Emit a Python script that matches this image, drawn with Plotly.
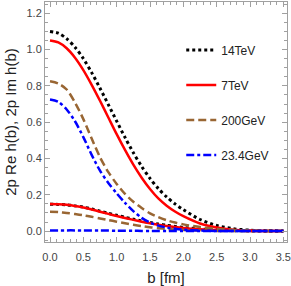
import plotly.graph_objects as go

b = [0.0, 0.125, 0.25, 0.375, 0.5, 0.625, 0.75, 0.875, 1.0, 1.125, 1.25, 1.375, 1.5,
     1.625, 1.75, 1.875, 2.0, 2.25, 2.5, 2.75, 3.0, 3.25, 3.5]

# Im parts (upper curves)
im_14tev = [1.10, 1.09, 1.06, 1.013, 0.95, 0.873, 0.787, 0.697, 0.606, 0.516, 0.432, 0.356,
            0.29, 0.234, 0.188, 0.15, 0.118, 0.064, 0.031, 0.013, 0.005, 0.002, 0.001]
im_7tev = [1.05, 1.039, 1.007, 0.955, 0.887, 0.806, 0.718, 0.626, 0.534, 0.447, 0.366, 0.294,
           0.232, 0.18, 0.14, 0.108, 0.082, 0.042, 0.02, 0.008, 0.003, 0.001, 0.0]
im_200gev = [0.825, 0.813, 0.78, 0.708, 0.617, 0.51, 0.407, 0.325, 0.26, 0.205, 0.162, 0.127,
             0.098, 0.077, 0.06, 0.047, 0.037, 0.022, 0.012, 0.006, 0.003, 0.001, 0.0]
im_23gev = [0.725, 0.712, 0.67, 0.605, 0.518, 0.42, 0.333, 0.265, 0.208, 0.156, 0.11, 0.073,
            0.047, 0.03, 0.02, 0.013, 0.008, 0.003, 0.001, 0.0, 0.0, 0.0, 0.0]

# Re parts (lower curves)
re_14tev = [0.148, 0.147, 0.145, 0.139, 0.132, 0.122, 0.11, 0.098, 0.087, 0.076, 0.066, 0.056,
            0.047, 0.039, 0.032, 0.026, 0.02, 0.012, 0.007, 0.003, 0.001, 0.0, 0.0]
re_7tev = [0.149, 0.148, 0.145, 0.138, 0.13, 0.119, 0.107, 0.095, 0.083, 0.072, 0.062, 0.052,
           0.043, 0.035, 0.028, 0.022, 0.017, 0.01, 0.005, 0.002, 0.001, 0.0, 0.0]
re_200gev = [0.106, 0.105, 0.1, 0.094, 0.087, 0.079, 0.07, 0.061, 0.052, 0.043, 0.035, 0.028,
             0.021, 0.016, 0.012, 0.009, 0.006, 0.003, 0.001, 0.0, 0.0, 0.0, 0.0]
re_23gev = [0.004, 0.004, 0.004, 0.004, 0.003, 0.003, 0.003, 0.003, 0.002, 0.002, 0.002, 0.001,
            0.001, 0.001, 0.001, 0.0, 0.0, 0.0, 0.0, 0.0, 0.0, 0.0, 0.0]

names = ["14TeV", "7TeV", "200GeV", "23.4GeV"]
colors = ["#000000", "#ff0000", "#996633", "#0000ff"]
dashes = ["3px,3px", "solid", "8px,4px", "8px,3px,3px,3px"]
widths = [3, 2.5, 2.5, 2.5]
ims = [im_14tev, im_7tev, im_200gev, im_23gev]
res = [re_14tev, re_7tev, re_200gev, re_23gev]

fig = go.Figure()
for i in range(4):
    line = dict(color=colors[i], dash=dashes[i], width=widths[i], shape="spline", smoothing=0.8)
    fig.add_trace(go.Scatter(x=b, y=res[i], mode="lines", line=line, name=names[i],
                             legendgroup=names[i], showlegend=False, hoverinfo="skip"))
    fig.add_trace(go.Scatter(x=b, y=ims[i], mode="lines", line=line, name=names[i],
                             legendgroup=names[i], showlegend=True, hoverinfo="skip"))

axis_common = dict(
    showline=True, linecolor="#a0a0a0", linewidth=1, mirror="allticks",
    ticks="inside", ticklen=5, tickcolor="#a0a0a0", tickwidth=1,
    showgrid=False, zeroline=False, automargin=False,
    tickfont=dict(family="Liberation Sans, Arial", size=11, color="#444444"),
)

fig.update_xaxes(
    range=[-0.075, 3.555], tickvals=[0, 0.5, 1, 1.5, 2, 2.5, 3, 3.5],
    ticktext=["0.0", "0.5", "1.0", "1.5", "2.0", "2.5", "3.0", "3.5"],
    minor=dict(dtick=0.1, tick0=0, ticks="inside", ticklen=3, tickcolor="#a0a0a0"),
    ticklabelstandoff=5,
    title=dict(text="b [fm]", font=dict(family="Liberation Sans, Arial", size=15, color="#222222"), standoff=12),
    **axis_common,
)
fig.update_yaxes(
    range=[-0.06, 1.262], tickvals=[0, 0.2, 0.4, 0.6, 0.8, 1.0, 1.2],
    ticktext=["0.0", "0.2", "0.4", "0.6", "0.8", "1.0", "1.2"],
    minor=dict(dtick=0.05, tick0=0, ticks="inside", ticklen=3, tickcolor="#a0a0a0"),
    title=dict(text="2p Re h(b), 2p Im h(b)", font=dict(family="Liberation Sans, Arial", size=15, color="#222222"), standoff=6),
    **axis_common,
)

fig.update_layout(
    width=291, height=286,
    margin=dict(l=45, r=4, t=2, b=44),
    plot_bgcolor="white", paper_bgcolor="white",
    hovermode=False,
    legend=dict(x=0.563, y=0.86, xanchor="left", yanchor="top",
                bgcolor="rgba(0,0,0,0)", tracegroupgap=16,
                font=dict(family="Liberation Sans, Arial", size=12, color="#222222")),
)

fig.write_html("out.html", config={"displayModeBar": False},
               post_script="document.body.style.margin='0';document.body.style.overflow='hidden';")
